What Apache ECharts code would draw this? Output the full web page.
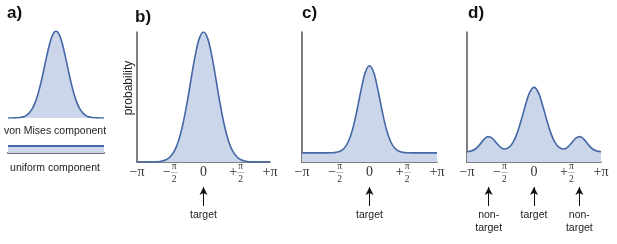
<!DOCTYPE html>
<html>
<head>
<meta charset="utf-8">
<script src="https://cdn.jsdelivr.net/npm/echarts/dist/echarts.min.js"></script>
<style>
  html, body { margin: 0; padding: 0; background: #fff; }
  #main { width: 617px; height: 244px; }
</style>
</head>
<body>
<div id="main"></div>
<script>
// angles in units of pi, -pi .. +pi
const angles = [-1, -0.9375, -0.875, -0.8125, -0.75, -0.6875, -0.625, -0.5625, -0.5,
  -0.4375, -0.375, -0.3125, -0.25, -0.1875, -0.125, -0.0625, 0, 0.0625, 0.125, 0.1875,
  0.25, 0.3125, 0.375, 0.4375, 0.5, 0.5625, 0.625, 0.6875, 0.75, 0.8125, 0.875, 0.9375, 1];

// panel a: the two components
const vonMisesComponent = [0, 0, 0.001, 0.002, 0.006, 0.013, 0.028, 0.056, 0.102, 0.174,
  0.277, 0.41, 0.565, 0.725, 0.867, 0.965, 1, 0.965, 0.867, 0.725, 0.565, 0.41, 0.277,
  0.174, 0.102, 0.056, 0.028, 0.013, 0.006, 0.002, 0.001, 0, 0];
const uniformAngles = [-1, 1];
const uniformComponent = [1, 1];

// panels b, c, d: response probability
const probB = [0, 0, 0, 0, 0.001, 0.002, 0.007, 0.017, 0.04, 0.085, 0.164, 0.285, 0.447,
  0.636, 0.818, 0.951, 1, 0.951, 0.818, 0.636, 0.447, 0.285, 0.164, 0.085, 0.04, 0.017,
  0.007, 0.002, 0.001, 0, 0, 0, 0];
const probC = [0.07, 0.07, 0.07, 0.07, 0.07, 0.07, 0.07, 0.071, 0.074, 0.082, 0.106, 0.158,
  0.252, 0.392, 0.554, 0.688, 0.74, 0.688, 0.554, 0.392, 0.252, 0.158, 0.106, 0.082, 0.074,
  0.071, 0.07, 0.07, 0.07, 0.07, 0.07, 0.07, 0.07];
const probD = [0.079, 0.084, 0.1, 0.132, 0.172, 0.195, 0.183, 0.147, 0.113, 0.1, 0.112,
  0.151, 0.224, 0.327, 0.443, 0.537, 0.574, 0.537, 0.443, 0.327, 0.224, 0.151, 0.112, 0.1,
  0.113, 0.147, 0.183, 0.195, 0.172, 0.132, 0.1, 0.084, 0.079];

const tickValues = [-1, -0.5, 0, 0.5, 1];
const tickLabels = ['−π', '−π/2', '0', '+π/2', '+π'];

// arrows under the axes
const targetAngles = [0];
const nonTargetAngles = [-0.677, 0.677];

const lineColor = '#4467a6';
const fillColor = '#ccd6ea';
const axisColor = '#555';
const sans = 'Liberation Sans, Arial, sans-serif';
const serif = 'Liberation Serif, Times New Roman, serif';

const chart = echarts.init(document.getElementById('main'));

// fractions are stacked as three lines: numerator, sign + bar, denominator
function tickFormatter(v) {
  const s = tickLabels[tickValues.indexOf(v)];
  if (s === undefined) return '';
  if (s.indexOf('/2') > 0) {
    const sign = s[0];
    return '{s|' + sign + '}{n|π}\n{t|' + sign + '}{bar|—}\n{s|' + sign + '}{n|2}';
  }
  return '{e| }\n{t|' + s + '}\n{e| }';
}

const tickRich = {
  t: { fontFamily: serif, fontSize: 14, lineHeight: 5, color: '#333' },
  s: { fontFamily: serif, fontSize: 14, lineHeight: 8, color: 'transparent' },
  n: { fontFamily: serif, fontSize: 9.5, lineHeight: 8, width: 7, align: 'center', color: '#333' },
  bar: { fontFamily: serif, fontSize: 7, width: 7, align: 'center', lineHeight: 5, color: '#333' },
  e: { fontSize: 8, lineHeight: 8 }
};

const hiddenX = (gi) => ({ gridIndex: gi, type: 'value', min: -1, max: 1, show: false });
const hiddenY = (gi) => ({ gridIndex: gi, type: 'value', min: 0, max: 1, show: false });

function plotX(gi) {
  return {
    gridIndex: gi, type: 'value', min: -1, max: 1, interval: 0.5,
    axisLine: { show: true, onZero: false, lineStyle: { color: axisColor, width: 1.5 } },
    axisTick: { show: false }, splitLine: { show: false },
    axisLabel: { margin: 0, formatter: tickFormatter, rich: tickRich, showMinLabel: true, showMaxLabel: true }
  };
}
function plotY(gi) {
  return {
    gridIndex: gi, type: 'value', min: 0, max: 1,
    axisLine: { show: true, onZero: false, lineStyle: { color: axisColor, width: 1.5 } },
    axisTick: { show: false }, axisLabel: { show: false }, splitLine: { show: false }
  };
}

function curve(gi, xs, ys, width) {
  return {
    type: 'line', xAxisIndex: gi, yAxisIndex: gi, silent: true,
    data: xs.map((a, i) => [a, ys[i]]),
    smooth: 0.35, symbol: 'none',
    lineStyle: { color: lineColor, width: width || 1.6 },
    areaStyle: { color: fillColor, opacity: 1 }
  };
}

function arrows(gi, items) {
  return {
    type: 'line', xAxisIndex: gi, yAxisIndex: gi, data: [], symbol: 'none', silent: true,
    markLine: {
      silent: true, animation: false,
      symbol: ['none', 'arrow'], symbolSize: [6, 8],
      lineStyle: { color: '#111', width: 1, type: 'solid' },
      label: {
        position: 'start', distance: 3, formatter: (p) => p.name,
        fontFamily: sans, fontSize: 10.5, lineHeight: 13, color: '#222'
      },
      data: items.map((it) => [{ coord: [it.x, 0], name: it.label }, { coord: [it.x, 1] }])
    }
  };
}

const option = {
  animation: false,
  backgroundColor: '#fff',
  grid: [
    { left: 8, top: 31, width: 96, height: 87 },      // a: von Mises
    { left: 8, top: 146, width: 96, height: 7 },      // a: uniform
    { left: 137, top: 32, width: 133, height: 130 },  // b
    { left: 302, top: 32, width: 135, height: 130 },  // c
    { left: 467, top: 32, width: 134, height: 130 },  // d
    { left: 137, top: 187, width: 133, height: 19 },  // arrows b
    { left: 302, top: 187, width: 135, height: 19 },  // arrows c
    { left: 467, top: 187, width: 134, height: 19 }   // arrows d
  ],
  xAxis: [
    hiddenX(0),
    { gridIndex: 1, type: 'value', min: -1, max: 1,
      axisLine: { show: true, onZero: false, lineStyle: { color: '#6e6e6e', width: 2 } },
      axisTick: { show: false }, axisLabel: { show: false }, splitLine: { show: false } },
    plotX(2), plotX(3), plotX(4),
    hiddenX(5), hiddenX(6), hiddenX(7)
  ],
  yAxis: [
    hiddenY(0), hiddenY(1),
    plotY(2), plotY(3), plotY(4),
    hiddenY(5), hiddenY(6), hiddenY(7)
  ],
  series: [
    curve(0, angles, vonMisesComponent),
    curve(1, uniformAngles, uniformComponent, 2),
    curve(2, angles, probB),
    curve(3, angles, probC),
    curve(4, angles, probD),
    arrows(5, targetAngles.map((x) => ({ x: x, label: 'target' }))),
    arrows(6, targetAngles.map((x) => ({ x: x, label: 'target' }))),
    arrows(7, targetAngles.map((x) => ({ x: x, label: 'target' }))
      .concat(nonTargetAngles.map((x) => ({ x: x, label: 'non-\ntarget' }))))
  ],
  graphic: [
    { type: 'text', x: 7, y: 5, style: { text: 'a)', font: 'bold 17px ' + sans, fill: '#111' } },
    { type: 'text', x: 135, y: 9, style: { text: 'b)', font: 'bold 17px ' + sans, fill: '#111' } },
    { type: 'text', x: 302, y: 5, style: { text: 'c)', font: 'bold 17px ' + sans, fill: '#111' } },
    { type: 'text', x: 468, y: 5, style: { text: 'd)', font: 'bold 17px ' + sans, fill: '#111' } },
    { type: 'text', x: 55, y: 131, style: { text: 'von Mises component', font: '10.5px ' + sans,
      fill: '#222', align: 'center', verticalAlign: 'middle' } },
    { type: 'text', x: 55, y: 168, style: { text: 'uniform component', font: '10.5px ' + sans,
      fill: '#222', align: 'center', verticalAlign: 'middle' } },
    { type: 'text', x: 129, y: 88, rotation: Math.PI / 2, style: { text: 'probability',
      font: '12px ' + sans, fill: '#222', align: 'center', verticalAlign: 'middle' } }
  ]
};

chart.setOption(option);
</script>
</body>
</html>
